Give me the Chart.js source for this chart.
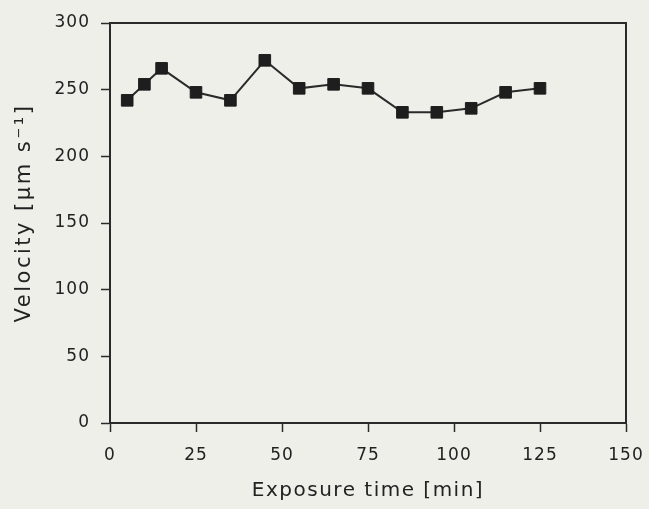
<!DOCTYPE html>
<html>
<head>
<meta charset="utf-8">
<script src="https://cdn.jsdelivr.net/npm/chart.js@4/dist/chart.umd.min.js"></script>
<style>
  html, body { margin: 0; padding: 0; background: #efefea; }
  #wrap { width: 649px; height: 509px; }
</style>
</head>
<body>
<div id="wrap"><canvas id="c" width="649" height="509"></canvas></div>
<script>
const exposureTime = [5, 10, 15, 25, 35, 45, 55, 65, 75, 85, 95, 105, 115, 125];
const velocity = [242, 254, 266, 248, 242, 272, 251, 254, 251, 233, 233, 236, 248, 251];
const xTicks = [0, 25, 50, 75, 100, 125, 150];
const yTicks = [0, 50, 100, 150, 200, 250, 300];
const xTitle = 'Exposure time [min]';
const yTitle = 'Velocity [\u03bcm s\u207b\u00b9]';

const ink = '#2a2a2a';
const fam = 'DejaVu Sans, Liberation Sans, Arial, sans-serif';

function wrapTitle(scale, spacing, dx, dy) {
  if (!scale || scale._spacedTitle) return;
  const orig = scale.drawTitle.bind(scale);
  scale.drawTitle = function () {
    const ctx = this.ctx;
    const prev = ctx.letterSpacing;
    ctx.save();
    ctx.letterSpacing = spacing;
    ctx.translate(dx, dy);
    orig();
    ctx.restore();
    ctx.letterSpacing = prev;
  };
  scale._spacedTitle = true;
}

const spacingPlugin = {
  id: 'spacing',
  beforeDraw(chart) {
    const ctx = chart.ctx;
    ctx.fillStyle = '#efefea';
    ctx.fillRect(0, 0, chart.width, chart.height);
    ctx.letterSpacing = '1px';
    wrapTitle(chart.scales.x, '1.5px', 0, 0);
    wrapTitle(chart.scales.y, '2.5px', 1, -10);
  },
  afterDatasetsDraw(chart) {
    const ctx = chart.ctx, a = chart.chartArea;
    ctx.save();
    ctx.strokeStyle = ink;
    ctx.lineWidth = 2;
    ctx.beginPath();
    ctx.moveTo(a.left, a.top);
    ctx.lineTo(a.right, a.top);
    ctx.lineTo(a.right, a.bottom);
    ctx.stroke();
    ctx.restore();
  }
};

new Chart(document.getElementById('c'), {
  type: 'scatter',
  data: {
    datasets: [{
      data: exposureTime.map((x, i) => ({ x, y: velocity[i] })),
      showLine: true,
      borderColor: ink,
      borderWidth: 2,
      pointStyle: 'rect',
      pointRadius: 8.2,
      pointBackgroundColor: '#1e1e1e',
      pointBorderColor: '#1e1e1e',
      pointBorderWidth: 1
    }]
  },
  options: {
    responsive: false,
    animation: false,
    devicePixelRatio: 1,
    layout: { padding: { left: 0, right: 23, top: 23, bottom: 0 } },
    plugins: { legend: { display: false }, tooltip: { enabled: false } },
    scales: {
      x: {
        type: 'linear',
        min: 0, max: 150,
        afterBuildTicks: s => { s.ticks = xTicks.map(v => ({ value: v })); },
        afterFit: s => { s.height = 86; s.paddingLeft = 0; s.paddingRight = 0; },
        border: { display: true, color: ink, width: 2 },
        grid: { drawOnChartArea: false, drawTicks: true, tickLength: 9, tickColor: ink, tickWidth: 1.5 },
        ticks: { color: '#222', padding: 13, maxRotation: 0, font: { family: fam, size: 17 } },
        title: { display: true, text: xTitle, color: '#222', padding: { top: 4, bottom: 6 }, font: { family: fam, size: 20 } }
      },
      y: {
        min: 0, max: 300,
        afterBuildTicks: s => { s.ticks = yTicks.map(v => ({ value: v })); },
        afterFit: s => { s.width = 110; s.paddingTop = 0; s.paddingBottom = 0; },
        border: { display: true, color: ink, width: 2 },
        grid: { drawOnChartArea: false, drawTicks: true, tickLength: 9, tickColor: ink, tickWidth: 1.5 },
        ticks: { color: '#222', padding: 11, font: { family: fam, size: 17 } },
        title: { display: true, text: yTitle, color: '#222', padding: { top: 11, bottom: 4 }, font: { family: fam, size: 21 } }
      }
    }
  },
  plugins: [spacingPlugin]
});
</script>
</body>
</html>
